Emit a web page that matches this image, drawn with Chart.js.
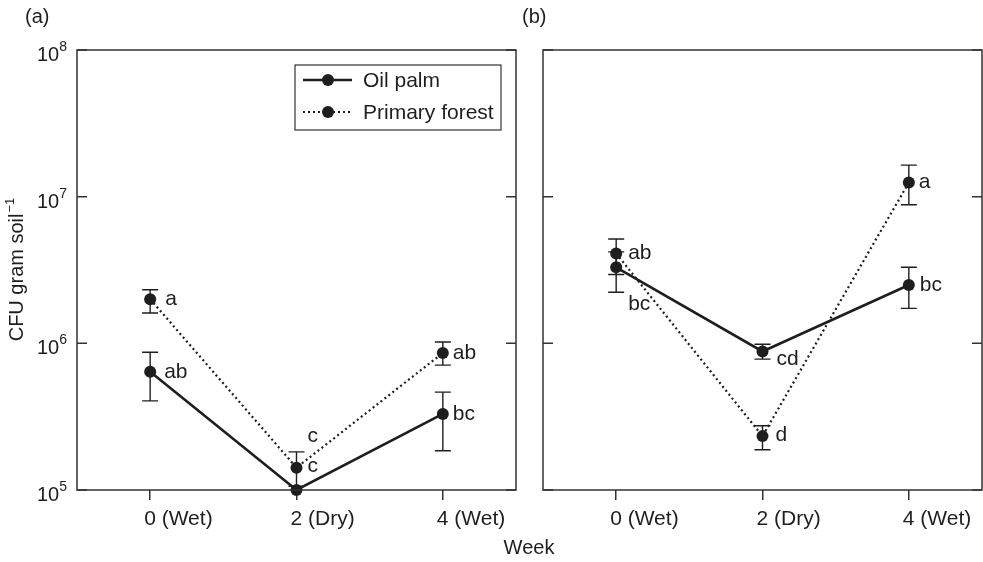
<!DOCTYPE html>
<html>
<head>
<meta charset="utf-8">
<script src="https://cdn.jsdelivr.net/npm/chart.js@4.4.0/dist/chart.umd.min.js"></script>
<style>
  html, body { margin: 0; padding: 0; background: #fff; }
  #wrap { position: relative; width: 983px; height: 562px; }
  #wrap canvas { position: absolute; left: 0; top: 0; }
</style>
</head>
<body>
<div id="wrap">
  <canvas id="chartA" width="983" height="562"></canvas>
  <canvas id="chartB" width="983" height="562"></canvas>
</div>
<script>
// categories and axis ticks
const weeks = ['0 (Wet)', '2 (Dry)', '4 (Wet)'];
const yTicks = [1e5, 1e6, 1e7, 1e8];
const yTickExp = ['5', '6', '7', '8'];

// panel (a)
const oilPalmA = [6.4e5, 1.0e5, 3.3e5];
const oilPalmAHi = [8.7e5, null, 4.65e5];
const oilPalmALo = [4.05e5, null, 1.85e5];
const oilPalmALetters = ['ab', 'c', 'bc'];
const forestA = [2.0e6, 1.42e5, 8.6e5];
const forestAHi = [2.32e6, 1.82e5, 1.02e6];
const forestALo = [1.61e6, 1.06e5, 7.1e5];
const forestALetters = ['a', 'c', 'ab'];

// panel (b)
const oilPalmB = [3.3e6, 8.8e5, 2.5e6];
const oilPalmBHi = [4.2e6, 9.85e5, 3.3e6];
const oilPalmBLo = [2.23e6, 7.8e5, 1.73e6];
const oilPalmBLetters = ['bc', 'cd', 'bc'];
const forestB = [4.1e6, 2.33e5, 1.25e7];
const forestBHi = [5.15e6, 2.74e5, 1.64e7];
const forestBLo = [2.95e6, 1.88e5, 8.8e6];
const forestBLetters = ['ab', 'd', 'a'];

const FONT = '"Liberation Sans", Arial, Helvetica, sans-serif';
const INK = '#1e1e1e';

function makeDecor(cfg) {
  return {
    id: 'decor',
    beforeDatasetsDraw(chart) {
      const ctx = chart.ctx, x = chart.scales.x, y = chart.scales.y;
      ctx.save();
      ctx.strokeStyle = INK;
      ctx.lineWidth = 1.4;
      chart.data.datasets.forEach(ds => {
        ds.data.forEach((v, j) => {
          if (ds.errHi[j] == null) return;
          const px = x.getPixelForValue(j);
          const y1 = y.getPixelForValue(ds.errHi[j]);
          const y2 = y.getPixelForValue(ds.errLo[j]);
          ctx.beginPath();
          ctx.moveTo(px, y1); ctx.lineTo(px, y2);
          ctx.moveTo(px - 8, y1); ctx.lineTo(px + 8, y1);
          ctx.moveTo(px - 8, y2); ctx.lineTo(px + 8, y2);
          ctx.stroke();
        });
      });
      ctx.restore();
    },
    afterDatasetsDraw(chart) {
      const ctx = chart.ctx, x = chart.scales.x, y = chart.scales.y;
      const a = chart.chartArea;
      ctx.save();
      // frame
      ctx.strokeStyle = '#333';
      ctx.lineWidth = 1.5;
      ctx.strokeRect(a.left, a.top, a.right - a.left, a.bottom - a.top);
      // inward y tick marks
      ctx.beginPath();
      yTicks.forEach(t => {
        const py = y.getPixelForValue(t);
        ctx.moveTo(a.left, py); ctx.lineTo(a.left + 10, py);
        ctx.moveTo(a.right, py); ctx.lineTo(a.right - 10, py);
      });
      ctx.stroke();

      // significance letters
      ctx.fillStyle = INK;
      ctx.font = '21px ' + FONT;
      ctx.textAlign = 'left';
      ctx.textBaseline = 'middle';
      chart.data.datasets.forEach(ds => {
        ds.data.forEach((v, j) => {
          const off = ds.letterOffsets[j];
          ctx.fillText(ds.letters[j], x.getPixelForValue(j) + off[0], y.getPixelForValue(v) + off[1]);
        });
      });

      // y tick labels
      if (cfg.yLabels) {
        yTicks.forEach((t, i) => {
          const py = y.getPixelForValue(t);
          const rx = a.left - 10;
          ctx.textAlign = 'right';
          ctx.textBaseline = 'alphabetic';
          ctx.font = '14px ' + FONT;
          const ew = ctx.measureText(yTickExp[i]).width;
          ctx.fillText(yTickExp[i], rx, py + 1);
          ctx.font = '20px ' + FONT;
          ctx.fillText('10', rx - ew, py + 11);
        });
        // y title
        ctx.save();
        ctx.translate(16, (a.top + a.bottom) / 2);
        ctx.rotate(-Math.PI / 2);
        ctx.font = '20px ' + FONT;
        const main = 'CFU gram soil';
        const mw = ctx.measureText(main).width;
        ctx.font = '13px ' + FONT;
        const sw = ctx.measureText('\u22121').width;
        const x0 = -(mw + sw) / 2;
        ctx.textAlign = 'left';
        ctx.textBaseline = 'alphabetic';
        ctx.font = '20px ' + FONT;
        ctx.fillText(main, x0, 7);
        ctx.font = '13px ' + FONT;
        ctx.fillText('\u22121', x0 + mw + 1, -2);
        ctx.restore();
      }

      // panel label
      ctx.font = '20px ' + FONT;
      ctx.textAlign = 'left';
      ctx.textBaseline = 'middle';
      ctx.fillText(cfg.panel, cfg.panelX, 17);

      if (cfg.axisTitle) {
        ctx.textAlign = 'center';
        ctx.fillText(cfg.axisTitle, cfg.axisTitleX, 548);
      }

      // legend
      if (cfg.legend) {
        const bw = 206, bh = 65;
        const bx = a.right - 221, by = a.top + 15;
        ctx.fillStyle = '#fff';
        ctx.fillRect(bx, by, bw, bh);
        ctx.strokeStyle = '#333';
        ctx.lineWidth = 1.2;
        ctx.strokeRect(bx, by, bw, bh);
        chart.data.datasets.forEach((ds, i) => {
          const ry = by + 15 + i * 32;
          ctx.strokeStyle = INK;
          ctx.lineWidth = ds.borderWidth;
          ctx.setLineDash(ds.borderDash || []);
          ctx.beginPath();
          ctx.moveTo(bx + 8, ry); ctx.lineTo(bx + 57, ry);
          ctx.stroke();
          ctx.setLineDash([]);
          ctx.fillStyle = INK;
          ctx.beginPath();
          ctx.arc(bx + 33, ry, 6, 0, Math.PI * 2);
          ctx.fill();
          ctx.font = '21px ' + FONT;
          ctx.textAlign = 'left';
          ctx.textBaseline = 'middle';
          ctx.fillText(ds.label, bx + 68, ry + 1);
        });
      }
      ctx.restore();
    }
  };
}

function series(label, data, hi, lo, letters, offsets, dotted) {
  return {
    label: label,
    data: data,
    errHi: hi,
    errLo: lo,
    letters: letters,
    letterOffsets: offsets,
    borderColor: INK,
    backgroundColor: INK,
    borderWidth: dotted ? 2.2 : 2.6,
    borderDash: dotted ? [2, 3] : [],
    pointRadius: 6,
    pointHoverRadius: 6,
    pointBackgroundColor: INK,
    pointBorderColor: INK,
    pointBorderWidth: 0,
    tension: 0,
    clip: false
  };
}

function makeOptions(padding) {
  return {
    responsive: false,
    animation: false,
    devicePixelRatio: 1,
    layout: { padding: padding, autoPadding: false },
    plugins: { legend: { display: false }, tooltip: { enabled: false } },
    events: [],
    scales: {
      x: {
        type: 'category',
        offset: true,
        border: { display: false },
        grid: { display: true, drawOnChartArea: false, drawTicks: true, tickLength: 10, color: '#333', lineWidth: 1.5 },
        ticks: {
          color: INK, font: { family: FONT, size: 21 }, padding: 7,
          align: 'start', labelOffset: -6, maxRotation: 0, autoSkip: false
        },
        afterFit(scale) {
          scale.height = 72;
          scale.paddingLeft = 0;
          scale.paddingRight = 0;
        }
      },
      y: {
        type: 'logarithmic',
        min: 1e5,
        max: 1e8,
        border: { display: false },
        grid: { display: false, drawTicks: false },
        ticks: { display: false }
      }
    }
  };
}

new Chart(document.getElementById('chartA'), {
  type: 'line',
  data: {
    labels: weeks,
    datasets: [
      series('Oil palm', oilPalmA, oilPalmAHi, oilPalmALo, oilPalmALetters, [[14, 0], [11, -54], [10, 0]], false),
      series('Primary forest', forestA, forestAHi, forestALo, forestALetters, [[15, 0], [11, -1], [10, 0]], true)
    ]
  },
  options: makeOptions({ left: 77, right: 467, top: 50, bottom: 0 }),
  plugins: [makeDecor({ panel: '(a)', panelX: 25, yLabels: true, legend: true, axisTitle: 'Week', axisTitleX: 529 })]
});

new Chart(document.getElementById('chartB'), {
  type: 'line',
  data: {
    labels: weeks,
    datasets: [
      series('Oil palm', oilPalmB, oilPalmBHi, oilPalmBLo, oilPalmBLetters, [[12, 37], [14, 8], [11, 0]], false),
      series('Primary forest', forestB, forestBHi, forestBLo, forestBLetters, [[12, 0], [13, -1], [10, 0]], true)
    ]
  },
  options: makeOptions({ left: 543, right: 1, top: 50, bottom: 0 }),
  plugins: [makeDecor({ panel: '(b)', panelX: 522, yLabels: false, legend: false })]
});
</script>
</body>
</html>
